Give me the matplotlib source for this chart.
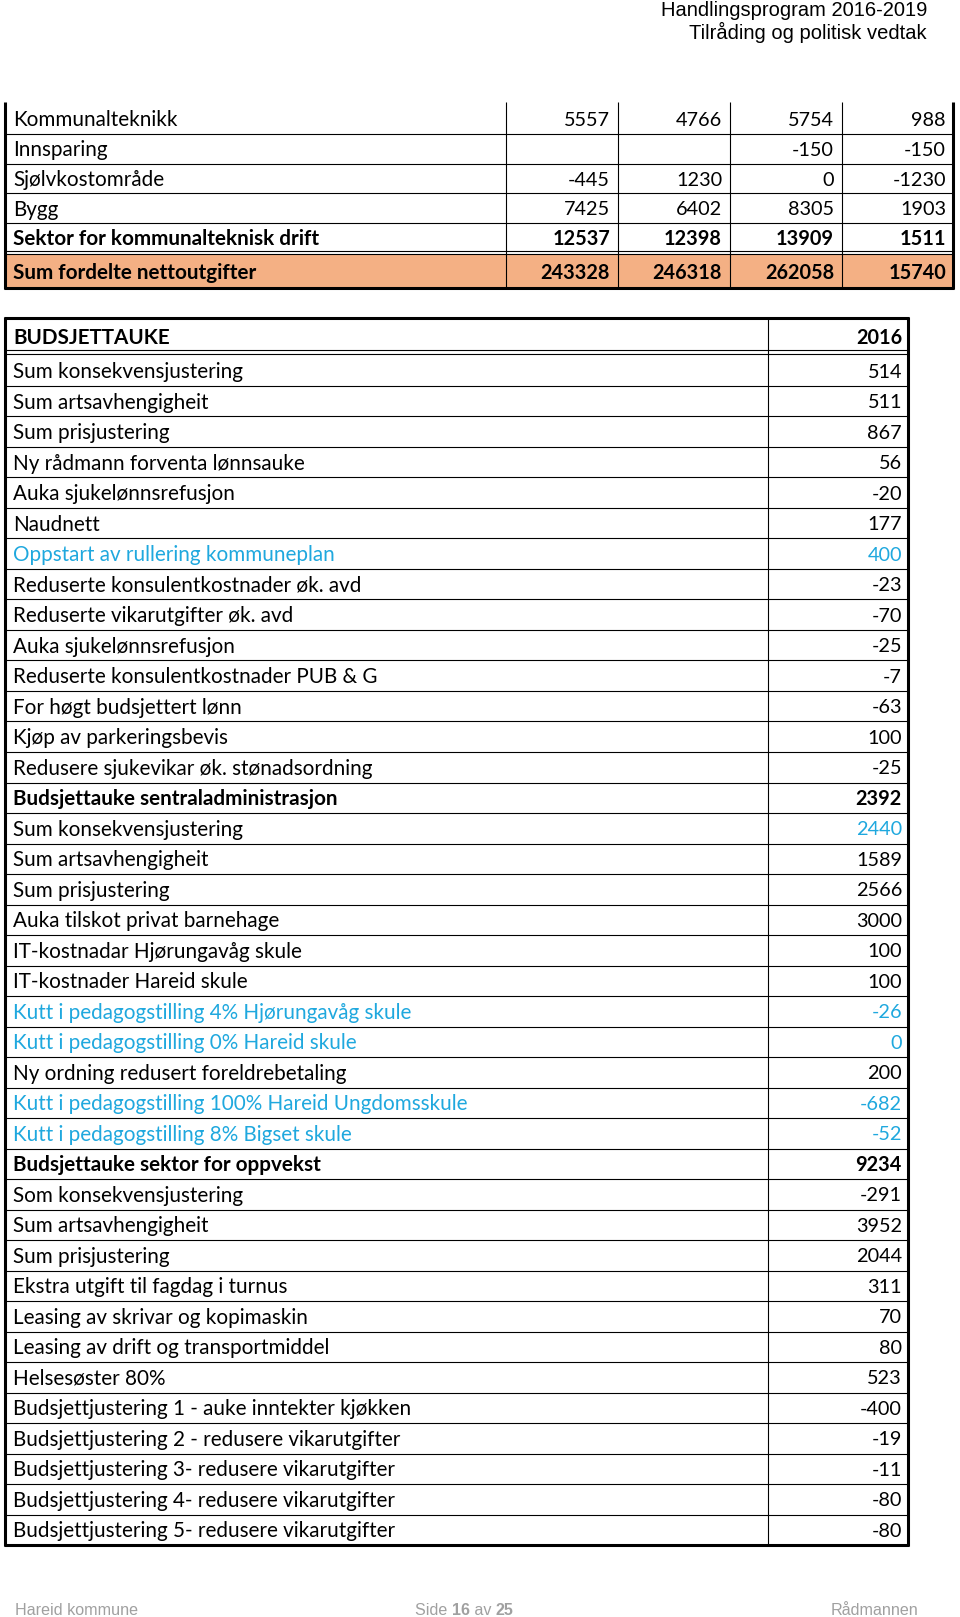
#!/usr/bin/env python3
# -*- coding: utf-8 -*-
"""
Budget table page (Handlingsprogram 2016-2019, side 16) redrawn with matplotlib
"""

import matplotlib
matplotlib.use("Agg")
import matplotlib.pyplot as plt
from matplotlib.patches import Rectangle

# ─── DATA ────────────────────────────────────────────────────────────
SECTOR_ROWS = [
    "Kommunalteknikk",
    "Innsparing",
    "Sjølvkostområde",
    "Bygg",
    "Sektor for kommunalteknisk drift",
    "Sum fordelte nettoutgifter",
]
COL_1 = [5557, None, -445, 7425, 12537, 243328]
COL_2 = [4766, None, 1230, 6402, 12398, 246318]
COL_3 = [5754, -150, 0, 8305, 13909, 262058]
COL_4 = [988, -150, -1230, 1903, 1511, 15740]

BUDGET_TITLE = "BUDSJETTAUKE"
BUDGET_YEAR = "2016"
BUDGET_ROWS = [
    "Sum konsekvensjustering",
    "Sum artsavhengigheit",
    "Sum prisjustering",
    "Ny rådmann forventa lønnsauke",
    "Auka sjukelønnsrefusjon",
    "Naudnett",
    "Oppstart av rullering kommuneplan",
    "Reduserte konsulentkostnader øk. avd",
    "Reduserte vikarutgifter øk. avd",
    "Auka sjukelønnsrefusjon",
    "Reduserte konsulentkostnader PUB & G",
    "For høgt budsjettert lønn",
    "Kjøp av parkeringsbevis",
    "Redusere sjukevikar øk. stønadsordning",
    "Budsjettauke sentraladministrasjon",
    "Sum konsekvensjustering",
    "Sum artsavhengigheit",
    "Sum prisjustering",
    "Auka tilskot privat barnehage",
    "IT-kostnadar Hjørungavåg skule",
    "IT-kostnader Hareid skule",
    "Kutt i pedagogstilling 4% Hjørungavåg skule",
    "Kutt i pedagogstilling 0% Hareid skule",
    "Ny ordning redusert foreldrebetaling",
    "Kutt i pedagogstilling 100% Hareid Ungdomsskule",
    "Kutt i pedagogstilling 8% Bigset skule",
    "Budsjettauke sektor for oppvekst",
    "Som konsekvensjustering",
    "Sum artsavhengigheit",
    "Sum prisjustering",
    "Ekstra utgift til fagdag i turnus",
    "Leasing av skrivar og kopimaskin",
    "Leasing av drift og transportmiddel",
    "Helsesøster 80%",
    "Budsjettjustering 1 - auke inntekter kjøkken",
    "Budsjettjustering 2 - redusere vikarutgifter",
    "Budsjettjustering 3- redusere vikarutgifter",
    "Budsjettjustering 4- redusere vikarutgifter",
    "Budsjettjustering 5- redusere vikarutgifter",
]
BUDGET_VALUES = [
    514, 511, 867, 56, -20, 177, 400, -23, -70, -25, -7, -63, 100, -25,
    2392, 2440, 1589, 2566, 3000, 100, 100, -26, 0, 200, -682, -52,
    9234, -291, 3952, 2044, 311, 70, 80, 523, -400, -19, -11, -80, -80,
]
BOLD_ROWS = [14, 26]
BLUE_ROWS = [6, 21, 22, 24, 25]
BLUE_VALUE_ROWS = [15]

# ─── STYLE ───────────────────────────────────────────────────────────
W, H = 960, 1617
FONT = ["Lato", "DejaVu Sans"]
LABEL_SIZE = 14.9   # text cells
VALUE_SIZE = 14.3   # number cells
BLUE = "#1FA8DE"
SALMON = "#F4B084"
THIN, THICK = 0.8, 2.2


def hline(ax, x0, x1, y, lw=THIN):
    ax.plot([x0, x1], [y, y], color="black", lw=lw, solid_capstyle="butt")


def vline(ax, x, y0, y1, lw=THIN):
    ax.plot([x, x], [y0, y1], color="black", lw=lw, solid_capstyle="butt")


def cell_text(ax, x, y, s, ha="left", bold=False, color="black"):
    size = LABEL_SIZE if ha == "left" else VALUE_SIZE
    ax.text(x, y, s, ha=ha, va="center", fontsize=size, family=FONT,
            fontweight="bold" if bold else "normal", color=color)


def fmt(v):
    return "" if v is None else str(v)


# ─── TOP TABLE ───────────────────────────────────────────────────────
def draw_sector_table(ax):
    left, right = 5, 953
    col_lines = [506, 618, 730, 842]
    bounds = [104, 134, 164, 193.5, 223, 252, 288.5]

    ax.add_patch(Rectangle((left, 254.5), right - left, 34, color=SALMON, lw=0))

    for y in bounds[1:5]:
        hline(ax, left, right, y)
    hline(ax, left, right, 251.5)
    hline(ax, left, right, 254.5)
    hline(ax, left - 1, right + 1, 288.5, THICK)

    vline(ax, left, 102, 289.5, THICK)
    vline(ax, right, 102, 289.5, THICK)
    for x in col_lines:
        vline(ax, x, 102, 288.5)

    value_x = [610, 722, 834, 946]
    columns = [COL_1, COL_2, COL_3, COL_4]
    for i, label in enumerate(SECTOR_ROWS):
        top, bot = bounds[i], bounds[i + 1]
        if i == 5:
            top = 254.5
        yc = (top + bot) / 2 + 1.5
        bold = i >= 4
        cell_text(ax, 13, yc, label, bold=bold)
        for x, col in zip(value_x, columns):
            cell_text(ax, x, yc, fmt(col[i]), ha="right", bold=bold)


# ─── BOTTOM TABLE ────────────────────────────────────────────────────
def draw_budget_table(ax):
    left, right, col = 5, 908, 768
    top, head_bot = 318, 354
    row_h = 30.5
    n = len(BUDGET_ROWS)
    bottom = head_bot + 1.5 + n * row_h

    hline(ax, left - 1, right + 1, top, THICK)
    hline(ax, left, right, 350.5)
    hline(ax, left, right, head_bot)
    first = head_bot + 1.5
    for k in range(1, n):
        hline(ax, left, right, first + k * row_h)
    hline(ax, left - 1, right + 1, bottom, THICK)

    vline(ax, left, top - 1, bottom + 1, THICK)
    vline(ax, right, top - 1, bottom + 1, THICK)
    vline(ax, col, top, bottom)

    cell_text(ax, 13, 337.5, BUDGET_TITLE, bold=True)
    cell_text(ax, 902, 337.5, BUDGET_YEAR, ha="right", bold=True)

    for i, (label, val) in enumerate(zip(BUDGET_ROWS, BUDGET_VALUES)):
        yc = first + (i + 0.5) * row_h + 1.5
        bold = i in BOLD_ROWS
        lab_c = BLUE if i in BLUE_ROWS else "black"
        val_c = BLUE if (i in BLUE_ROWS or i in BLUE_VALUE_ROWS) else "black"
        cell_text(ax, 13, yc, label, bold=bold, color=lab_c)
        cell_text(ax, 902, yc, str(val), ha="right", bold=bold, color=val_c)


# ─── PAGE HEADER / FOOTER ────────────────────────────────────────────
def draw_page_frame(ax, fig):
    head = dict(ha="right", va="center", fontsize=14.5, family="Liberation Sans")
    ax.text(927, 10.5, "Handlingsprogram 2016-2019", **head)
    ax.text(927, 32.5, "Tilråding og politisk vedtak", **head)

    foot = dict(va="center", fontsize=11.6, family="Liberation Sans", color="#A0A0A0")
    ax.text(15, 1610, "Hareid kommune", ha="left", **foot)
    ax.text(918, 1610, "Rådmannen", ha="right", **foot)

    # "Side 16 av 25" with bold page numbers, laid out piece by piece
    renderer = fig.canvas.get_renderer()
    x = 415
    for part, w in [("Side ", "normal"), ("16", "bold"), (" av ", "normal"), ("25", "bold")]:
        t = ax.text(x, 1610, part, ha="left", fontweight=w, **foot)
        x += t.get_window_extent(renderer).width


def main():
    fig = plt.figure(figsize=(W / 100, H / 100), dpi=100)
    ax = fig.add_axes([0, 0, 1, 1])
    ax.set_xlim(0, W)
    ax.set_ylim(H, 0)
    ax.axis("off")

    draw_sector_table(ax)
    draw_budget_table(ax)
    draw_page_frame(ax, fig)

    fig.savefig("out.png", dpi=100, facecolor="white")


if __name__ == "__main__":
    main()
